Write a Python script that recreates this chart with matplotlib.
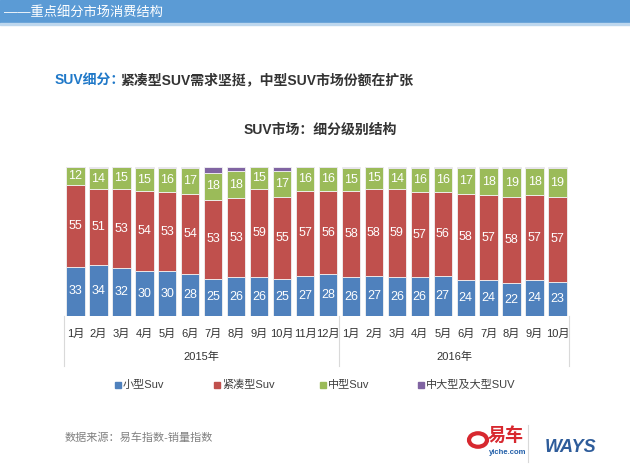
import matplotlib
matplotlib.use('Agg')
import matplotlib.pyplot as plt
import matplotlib.patches as mpatches
import matplotlib.transforms as mtransforms
import numpy as np

plt.rcParams['font.family'] = ['Liberation Sans', 'Noto Sans CJK SC', 'DejaVu Sans']

# dados
meses = ['1月', '2月', '3月', '4月', '5月', '6月', '7月', '8月', '9月', '10月', '11月', '12月',
         '1月', '2月', '3月', '4月', '5月', '6月', '7月', '8月', '9月', '10月']
anos = ['2015年', '2016年']
series = ['小型Suv', '紧凑型Suv', '中型Suv', '中大型及大型SUV']
pequeno = [33, 34, 32, 30, 30, 28, 25, 26, 26, 25, 27, 28,
           26, 27, 26, 26, 27, 24, 24, 22, 24, 23]
compacto = [55, 51, 53, 54, 53, 54, 53, 53, 59, 55, 57, 56,
            58, 58, 59, 57, 56, 58, 57, 58, 57, 57]
medio = [12, 14, 15, 15, 16, 17, 18, 18, 15, 17, 16, 16,
         15, 15, 14, 16, 16, 17, 18, 19, 18, 19]
grande = [0.5, 1, 0.5, 1, 1, 1, 4, 3, 0.5, 3, 0.5, 0.5,
          1, 0.5, 1, 1, 1, 1, 1, 1, 1, 1]

cores = ['#4F81BD', '#C0504D', '#9BBB59', '#8064A2']

W, H = 630, 472
fig = plt.figure(figsize=(6.3, 4.72), dpi=100)

def fx(px):
    return px / W

def fy(py):
    return 1 - py / H

# faixa azul do topo
fig.patches.append(mpatches.Rectangle((0, fy(23)), 1, 23 / H, transform=fig.transFigure,
                                      color='#5B9BD5', zorder=0))
fig.patches.append(mpatches.Rectangle((0, fy(25)), 1, 2 / H, transform=fig.transFigure,
                                      color='#BDD7EE', zorder=0))
fig.text(fx(4), fy(12), '——重点细分市场消费结构', color='white', fontsize=9.5,
         va='center', ha='left')

# titulo principal
t1 = fig.text(fx(55), fy(80), 'SUV细分：', color='#1F78C8', fontsize=10,
              fontweight='bold', va='center', ha='left')
fig.canvas.draw()
bb = t1.get_window_extent()
fig.text((bb.x1 - 5) / fig.bbox.width, fy(80), '紧凑型SUV需求坚挺，中型SUV市场份额在扩张',
         color='#333333', fontsize=10, fontweight='bold', va='center', ha='left')

fig.text(fx(320), fy(130), 'SUV市场：细分级别结构', color='#333333', fontsize=10,
         fontweight='bold', va='center', ha='center')

# grafico
ax = fig.add_axes([fx(64), fy(316), fx(569) - fx(64), (316 - 167) / H])
x = np.arange(len(meses))
base = np.zeros(len(meses))
dados = [pequeno, compacto, medio, grande]
for i, (nome, vals) in enumerate(zip(series, dados)):
    vals = np.array(vals, dtype=float)
    ax.bar(x, vals, bottom=base, width=0.8, color=cores[i], edgecolor='#F2F2F2',
           linewidth=0.6, label=nome)
    if i < 3:
        for xi, b, v in zip(x, base, vals):
            ax.text(xi, b + v / 2, f'{int(v)}', color='white', fontsize=9,
                    ha='center', va='center')
    base += vals

ax.set_xlim(-0.5, len(meses) - 0.5)
ax.set_ylim(0, 100)
for s in ax.spines.values():
    s.set_visible(False)
ax.set_yticks([])
ax.set_xticks(x)
ax.set_xticklabels(meses, fontsize=8, color='#333333')
ax.tick_params(axis='x', length=0, pad=9)

trans = mtransforms.blended_transform_factory(ax.transData, ax.transAxes)
for xs in [-0.5, 11.5, len(meses) - 0.5]:
    ax.plot([xs, xs], [0, -(366 - 316) / 149], transform=trans, color='#D9D9D9',
            linewidth=0.8, clip_on=False)
ax.text(5.5, -(357 - 316) / 149, anos[0], transform=trans, ha='center', va='center',
        fontsize=8, color='#333333')
ax.text(16.5, -(357 - 316) / 149, anos[1], transform=trans, ha='center', va='center',
        fontsize=8, color='#333333')

# legenda
leg_x = [118, 217, 323, 421]
for px, nome, c in zip(leg_x, series, cores):
    fig.patches.append(mpatches.Rectangle((fx(px - 3), fy(388)), 6 / W, 6 / H,
                                          transform=fig.transFigure, color=c))
    fig.text(fx(px + 5), fy(385), nome, fontsize=8, color='#404040', va='center', ha='left')

# fonte
fig.text(fx(65), fy(438), '数据来源：易车指数-销量指数', fontsize=8, color='#808080',
         va='center', ha='left')

# logos (aproximados)
fig.patches.append(mpatches.Circle((fx(478), fy(440)), 9 / W, transform=fig.transFigure,
                                   fill=False, edgecolor='#D7282F', linewidth=3))
fig.text(fx(488), fy(436), '易车', fontsize=13, fontweight='bold', color='#D7282F',
         va='center', ha='left')
fig.text(fx(489), fy(452), 'yiche.com', fontsize=5.5, fontweight='bold', color='#1F5DA8',
         va='center', ha='left')
fig.lines.append(plt.Line2D([fx(528), fx(528)], [fy(425), fy(462)], transform=fig.transFigure,
                            color='#D9D9D9', linewidth=0.8))
fig.text(fx(545), fy(448), 'WAYS', fontsize=13, fontweight='bold', style='italic',
         color='#2E5C9A', va='center', ha='left')

fig.savefig('out.png', dpi=100)
